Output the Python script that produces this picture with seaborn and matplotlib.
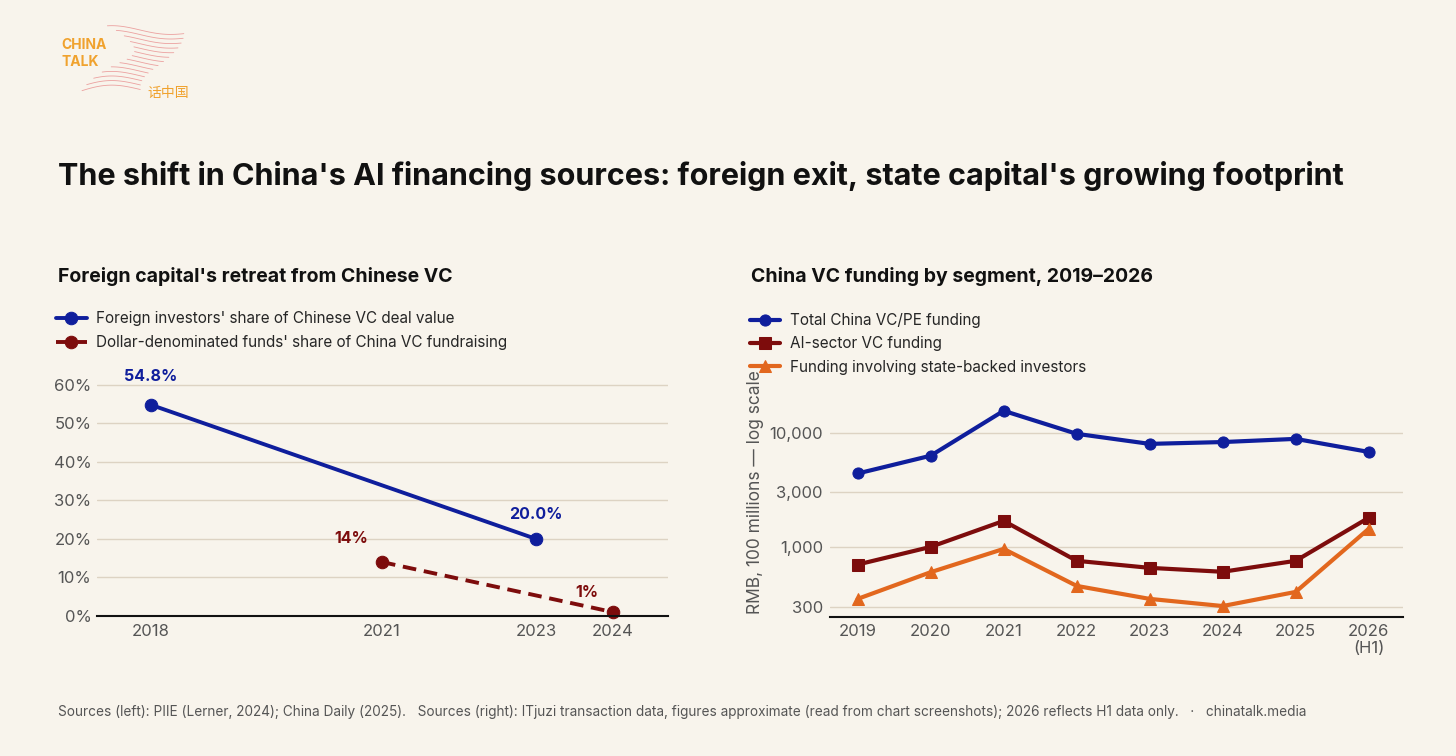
import numpy as np
import pandas as pd
import seaborn as sns
import matplotlib.pyplot as plt
from matplotlib.ticker import FixedLocator, NullLocator, FuncFormatter

# ---- data ----
foreign_years = [2018, 2023]
foreign_share = [54.8, 20.0]
dollar_years = [2021, 2024]
dollar_share = [14, 1]

periods = ["2019", "2020", "2021", "2022", "2023", "2024", "2025", "2026\n(H1)"]
total_vc = [4400, 6300, 15600, 9800, 8000, 8300, 8850, 6800]
ai_vc = [700, 1000, 1690, 755, 655, 605, 755, 1800]
state_vc = [350, 600, 960, 455, 350, 303, 403, 1440]

BG = "#F8F4EC"
BLUE = "#0F1E9C"
RED = "#7D0C0C"
ORANGE = "#E2671E"
GRID = "#DDD3C3"
GRAY = "#555555"

sns.set_theme(style="white")
plt.rcParams['font.family'] = ['Inter', 'DejaVu Sans']
plt.rcParams['axes.facecolor'] = BG
plt.rcParams['figure.facecolor'] = BG

fig = plt.figure(figsize=(14.56, 7.56), dpi=100)

# ---- logo ----
logo = fig.add_axes([0.055, 0.86, 0.075, 0.11])
logo.set_xlim(0, 1)
logo.set_ylim(0, 1)
logo.axis("off")
for i in range(14):
    y0 = 0.92 - i * 0.055
    x0 = 0.25 + 0.25 * np.sin(i / 3.0)
    x1 = 0.75 + 0.2 * np.cos(i / 4.0)
    xs = np.linspace(x0, x1, 30)
    logo.plot(xs, y0 - 0.12 * (xs - 0.5) ** 2 + 0.05 * np.sin(xs * 6), color="#E88C8C", lw=0.6, alpha=0.8)
fig.text(0.042, 0.935, "CHINA", color="#F0A22E", fontsize=10, fontweight="bold")
fig.text(0.042, 0.913, "TALK", color="#F0A22E", fontsize=10, fontweight="bold")
fig.text(0.101, 0.872, "话中国", color="#F0A22E", fontsize=10, family=["Noto Sans CJK SC", "DejaVu Sans"])

# ---- titles ----
fig.text(0.04, 0.755, "The shift in China's AI financing sources: foreign exit, state capital's growing footprint",
         fontsize=22, fontweight="bold", color="#111111")
fig.text(0.04, 0.627, "Foreign capital's retreat from Chinese VC", fontsize=14, fontweight="bold", color="#111111")
fig.text(0.516, 0.627, "China VC funding by segment, 2019\u20132026", fontsize=14, fontweight="bold", color="#111111")
fig.text(0.04, 0.053,
         "Sources (left): PIIE (Lerner, 2024); China Daily (2025).   Sources (right): ITjuzi transaction data, "
         "figures approximate (read from chart screenshots); 2026 reflects H1 data only.   \u00b7   chinatalk.media",
         fontsize=9.8, color=GRAY)

# ---- left chart ----
ax1 = fig.add_axes([0.0666, 0.1852, 0.392, 0.316])
sns.lineplot(x=foreign_years, y=foreign_share, ax=ax1, color=BLUE, lw=2.8, marker="o", markersize=9,
             markeredgecolor=BLUE, label="Foreign investors' share of Chinese VC deal value", clip_on=False)
sns.lineplot(x=dollar_years, y=dollar_share, ax=ax1, color=RED, lw=2.8, marker="o", markersize=9,
             markeredgecolor=RED, linestyle=(0, (3.5, 2)), label="Dollar-denominated funds' share of China VC fundraising",
             clip_on=False)
ax1.set_xlim(2017.3, 2024.71)
ax1.set_ylim(0, 62)
ax1.set_xticks([2018, 2021, 2023, 2024])
ax1.set_xticklabels(["2018", "2021", "2023", "2024"])
ax1.set_yticks([0, 10, 20, 30, 40, 50, 60])
ax1.set_yticklabels([f"{v}%" for v in [0, 10, 20, 30, 40, 50, 60]])
ax1.yaxis.grid(True, color=GRID, lw=1)
ax1.set_axisbelow(True)
for s in ["left", "right", "top"]:
    ax1.spines[s].set_visible(False)
ax1.spines["bottom"].set_color("#111111")
ax1.spines["bottom"].set_linewidth(1.5)
ax1.tick_params(axis="both", length=0, labelsize=12, labelcolor=GRAY, pad=6)
ax1.tick_params(axis="y", pad=4)

ax1.annotate("54.8%", (foreign_years[0], foreign_share[0]), xytext=(0, 17), textcoords="offset points",
             ha="center", color=BLUE, fontsize=11.5, fontweight="bold")
ax1.annotate("20.0%", (foreign_years[1], foreign_share[1]), xytext=(0, 14), textcoords="offset points",
             ha="center", color=BLUE, fontsize=11.5, fontweight="bold")
ax1.annotate("14%", (dollar_years[0], dollar_share[0]), xytext=(-22, 14), textcoords="offset points",
             ha="center", color=RED, fontsize=11.5, fontweight="bold")
ax1.annotate("1%", (dollar_years[1], dollar_share[1]), xytext=(-19, 11), textcoords="offset points",
             ha="center", color=RED, fontsize=11.5, fontweight="bold")

ax1.legend(loc="upper left", bbox_to_anchor=(0.0385, 0.588), bbox_transform=fig.transFigure, frameon=False,
           fontsize=11, handlelength=2.0, handletextpad=0.6, labelspacing=0.55, borderaxespad=0, borderpad=0)

# ---- right chart ----
ax2 = fig.add_axes([0.570, 0.1839, 0.3936, 0.289])
sns.lineplot(x=periods, y=total_vc, ax=ax2, color=BLUE, lw=3, marker="o", markersize=8,
             markeredgecolor=BLUE, label="Total China VC/PE funding", sort=False)
sns.lineplot(x=periods, y=ai_vc, ax=ax2, color=RED, lw=3, marker="s", markersize=8,
             markeredgecolor=RED, label="AI-sector VC funding", sort=False)
sns.lineplot(x=periods, y=state_vc, ax=ax2, color=ORANGE, lw=3, marker="^", markersize=8.5,
             markeredgecolor=ORANGE, label="Funding involving state-backed investors", sort=False)
ax2.set_yscale("log")
ax2.set_ylim(243, 20000)
ax2.set_xlim(-0.38, 7.47)
ax2.yaxis.set_major_locator(FixedLocator([300, 1000, 3000, 10000]))
ax2.yaxis.set_minor_locator(NullLocator())
ax2.yaxis.set_major_formatter(FuncFormatter(lambda v, p: f"{v:,.0f}"))
ax2.yaxis.grid(True, color=GRID, lw=1)
ax2.set_axisbelow(True)
for s in ["left", "right", "top"]:
    ax2.spines[s].set_visible(False)
ax2.spines["bottom"].set_color("#111111")
ax2.spines["bottom"].set_linewidth(1.5)
ax2.tick_params(axis="both", which="both", length=0, labelsize=12, labelcolor=GRAY, pad=5)
ax2.set_ylabel("RMB, 100 millions \u2014 log scale", fontsize=12.5, color=GRAY)
ax2.yaxis.set_label_coords(-0.115, 0.57)
ax2.set_xlabel("")

ax2.legend(loc="upper left", bbox_to_anchor=(0.515, 0.586), bbox_transform=fig.transFigure, frameon=False,
           fontsize=11, handlelength=2.0, handletextpad=0.6, labelspacing=0.55, borderaxespad=0, borderpad=0)

fig.savefig("out.png", dpi=100, facecolor=BG)
